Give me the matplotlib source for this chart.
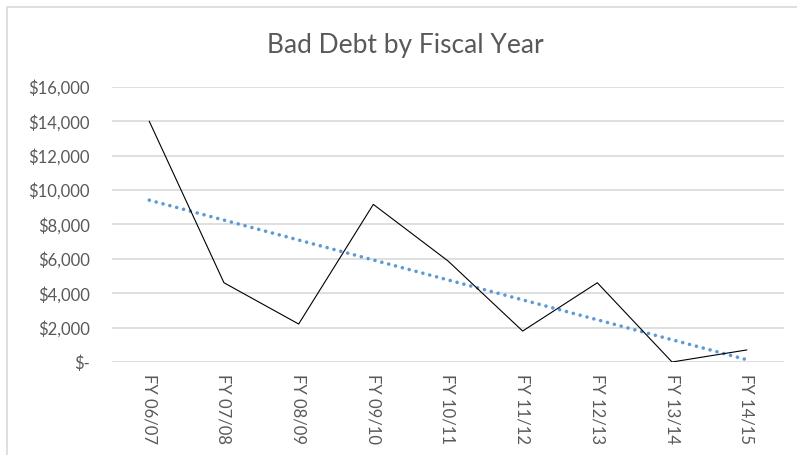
import numpy as np
import matplotlib
matplotlib.use("Agg")
import matplotlib.pyplot as plt
from matplotlib.ticker import FuncFormatter
from matplotlib.patches import Rectangle

# Bad debt written off per fiscal year (USD)
fiscal_years = ["FY 06/07", "FY 07/08", "FY 08/09", "FY 09/10", "FY 10/11",
                "FY 11/12", "FY 12/13", "FY 13/14", "FY 14/15"]
bad_debt = [14000, 4610, 2210, 9170, 5880, 1800, 4610, 0, 700]
y_ticks = [0, 2000, 4000, 6000, 8000, 10000, 12000, 14000, 16000]

plt.rcParams["font.family"] = ["Lato", "DejaVu Sans"]
text_grey = "#595959"
grid_grey = "#D9D9D9"
trend_blue = "#5B9BD5"

fig = plt.figure(figsize=(7.97, 4.55), dpi=100)
ax = fig.add_axes([0.1405, 0.2044, 0.9837 - 0.1405, 0.8088 - 0.2044])

x = np.arange(len(fiscal_years))
y = np.array(bad_debt, dtype=float)

# linear trendline fitted to the series
slope, intercept = np.polyfit(x, y, 1)
ax.plot(x, slope * x + intercept, color=trend_blue, lw=2.6,
        linestyle=(0, (0.01, 1.95)), dash_capstyle="round", zorder=3)
ax.plot(x, y, color="black", lw=0.8, zorder=4)

ax.set_xlim(-0.5, len(fiscal_years) - 0.5)
ax.set_ylim(0, 16000)
ax.set_yticks(y_ticks)


def dollars(v, _pos):
    return "$-" if v == 0 else f"${v:,.0f}"


ax.yaxis.set_major_formatter(FuncFormatter(dollars))
ax.set_xticks(x)
ax.set_xticklabels(fiscal_years, rotation=270, va="top", ha="center")
ax.grid(axis="y", color=grid_grey, lw=1.2)
ax.set_axisbelow(True)
for s in ax.spines.values():
    s.set_visible(False)
ax.tick_params(axis="both", length=0, colors=text_grey, labelsize=12)
ax.tick_params(axis="y", pad=16)
ax.tick_params(axis="x", pad=9)

fig.text(0.509, 0.90, "Bad Debt by Fiscal Year", ha="center", va="center",
         fontsize=19, color=text_grey)

# chart frame
fig.patches.append(Rectangle((7 / 797, -0.1), 1.2, 1 - 7 / 455 + 0.1,
                             transform=fig.transFigure, fill=False,
                             edgecolor="#D9D9D9", lw=1.2))

fig.savefig("out.png", dpi=100)
